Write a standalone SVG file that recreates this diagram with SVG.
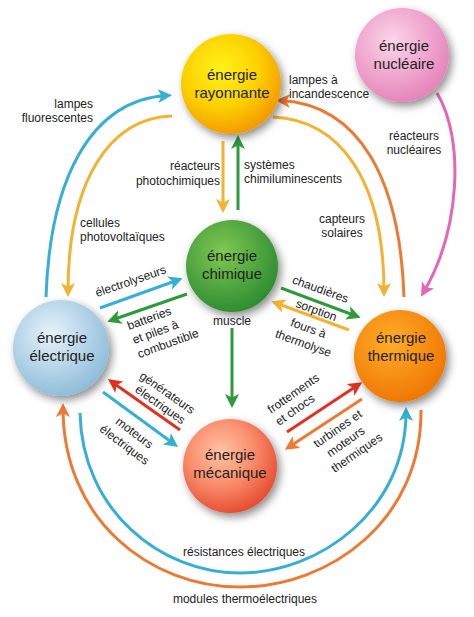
<svg xmlns="http://www.w3.org/2000/svg" width="474" height="617" viewBox="0 0 474 617">
<style>
.lbl{font-family:"Liberation Sans",Arial,sans-serif;font-size:12px;fill:#222}
.nd{font-family:"Liberation Sans",Arial,sans-serif;font-size:15px;fill:#222;text-anchor:middle}
.c{fill:none;stroke-width:3;stroke-linecap:butt}
.blue{stroke:#36afd2}.yel{stroke:#f2b233}.ora{stroke:#ec7a35}.grn{stroke:#2f9a3b}.red{stroke:#e0321e}.pnk{stroke:#e466b4}
</style>
<defs>
<filter id="sh" x="-30%" y="-30%" width="160%" height="160%"><feDropShadow dx="3" dy="4" stdDeviation="4" flood-color="#000" flood-opacity="0.45"/></filter>
<radialGradient id="gR" cx="40%" cy="35%" r="70%"><stop offset="0" stop-color="#fff21a"/><stop offset="0.55" stop-color="#fcd000"/><stop offset="1" stop-color="#f29400"/></radialGradient>
<radialGradient id="gN" cx="40%" cy="35%" r="70%"><stop offset="0" stop-color="#fbd6e8"/><stop offset="1" stop-color="#e57fb8"/></radialGradient>
<radialGradient id="gC" cx="40%" cy="35%" r="70%"><stop offset="0" stop-color="#80c853"/><stop offset="1" stop-color="#2a8a30"/></radialGradient>
<radialGradient id="gE" cx="40%" cy="35%" r="70%"><stop offset="0" stop-color="#e6f2fa"/><stop offset="1" stop-color="#8bbad8"/></radialGradient>
<radialGradient id="gT" cx="40%" cy="35%" r="70%"><stop offset="0" stop-color="#ffae2a"/><stop offset="1" stop-color="#ef7400"/></radialGradient>
<radialGradient id="gM" cx="40%" cy="35%" r="70%"><stop offset="0" stop-color="#ffc4a6"/><stop offset="0.5" stop-color="#f98e6c"/><stop offset="1" stop-color="#e4472c"/></radialGradient>
<marker id="aB" viewBox="0 0 14 14" markerWidth="14" markerHeight="14" refX="9" refY="7" orient="auto" markerUnits="userSpaceOnUse"><path d="M0,0 L14,7 L0,14 L3.5,7 z" fill="#36afd2"/></marker>
<marker id="aY" viewBox="0 0 14 14" markerWidth="14" markerHeight="14" refX="9" refY="7" orient="auto" markerUnits="userSpaceOnUse"><path d="M0,0 L14,7 L0,14 L3.5,7 z" fill="#f2b233"/></marker>
<marker id="aO" viewBox="0 0 14 14" markerWidth="14" markerHeight="14" refX="9" refY="7" orient="auto" markerUnits="userSpaceOnUse"><path d="M0,0 L14,7 L0,14 L3.5,7 z" fill="#ec7a35"/></marker>
<marker id="aG" viewBox="0 0 14 14" markerWidth="14" markerHeight="14" refX="9" refY="7" orient="auto" markerUnits="userSpaceOnUse"><path d="M0,0 L14,7 L0,14 L3.5,7 z" fill="#2f9a3b"/></marker>
<marker id="aR" viewBox="0 0 14 14" markerWidth="14" markerHeight="14" refX="9" refY="7" orient="auto" markerUnits="userSpaceOnUse"><path d="M0,0 L14,7 L0,14 L3.5,7 z" fill="#e0321e"/></marker>
<marker id="aP" viewBox="0 0 14 14" markerWidth="14" markerHeight="14" refX="9" refY="7" orient="auto" markerUnits="userSpaceOnUse"><path d="M0,0 L14,7 L0,14 L3.5,7 z" fill="#e466b4"/></marker>
</defs>
<rect width="474" height="617" fill="#fff"/>

<g id="connectors">
<path class="c blue" d="M46,297 C50,180 90,100 167,95.5" marker-end="url(#aB)"/>
<path class="c yel" d="M172,116 C110,118 68,180 68,292" marker-end="url(#aY)"/>
<path class="c ora" d="M404,297 C400,180 360,105 281,100.5" marker-end="url(#aO)"/>
<path class="c yel" d="M273,117 C340,120 384,180 384,292" marker-end="url(#aY)"/>
<path class="c pnk" d="M437,93 C465,140 460,230 423.5,292.5" marker-end="url(#aP)"/>
<path class="c yel" d="M223,141 L223,208" marker-end="url(#aY)"/>
<path class="c grn" d="M238,210 L238,140" marker-end="url(#aG)"/>
<path class="c blue" d="M100,308 L178,280" marker-end="url(#aB)"/>
<path class="c grn" d="M187,294 L112,320" marker-end="url(#aG)"/>
<path class="c grn" d="M281,288 L356,316" marker-end="url(#aG)"/>
<path class="c yel" d="M349,330 L276,303" marker-end="url(#aY)"/>
<path class="c grn" d="M232,328 L232,403" marker-end="url(#aG)"/>
<path class="c red" d="M180,430 L112,382" marker-end="url(#aR)"/>
<path class="c blue" d="M103,392 L174,444" marker-end="url(#aB)"/>
<path class="c red" d="M287,432 L358,385" marker-end="url(#aR)"/>
<path class="c ora" d="M362,399 L289,447" marker-end="url(#aO)"/>
<path class="c blue" d="M80,413 C82,510 160,573 240,573 C320,573 406,510 406,412" marker-end="url(#aB)"/>
<path class="c ora" d="M421,410 C422,520 330,587 240,587 C150,587 63,520 63,408" marker-end="url(#aO)"/>
</g>

<g id="labels">
<text class="lbl" text-anchor="end" x="93" y="108">lampes</text>
<text class="lbl" text-anchor="end" x="93" y="122">fluorescentes</text>
<text class="lbl" text-anchor="end" x="220" y="170">réacteurs</text>
<text class="lbl" text-anchor="end" x="220" y="185">photochimiques</text>
<text class="lbl" x="244" y="169">systèmes</text>
<text class="lbl" x="244" y="183">chimiluminescents</text>
<text class="lbl" x="289" y="84">lampes à</text>
<text class="lbl" x="289" y="98">incandescence</text>
<text class="lbl" text-anchor="middle" x="414" y="140">réacteurs</text>
<text class="lbl" text-anchor="middle" x="414" y="154">nucléaires</text>
<text class="lbl" x="80" y="227">cellules</text>
<text class="lbl" x="80" y="241">photovoltaïques</text>
<text class="lbl" text-anchor="middle" x="342" y="223">capteurs</text>
<text class="lbl" text-anchor="middle" x="342" y="237">solaires</text>
<text class="lbl" transform="translate(97,297) rotate(-19)">électrolyseurs</text>
<g transform="translate(129,330) rotate(-20)">
<text class="lbl" x="0" y="0">batteries</text>
<text class="lbl" x="0" y="15">et piles à</text>
<text class="lbl" x="0" y="30">combustible</text>
</g>
<text class="lbl" text-anchor="middle" x="232" y="325">muscle</text>
<text class="lbl" text-anchor="middle" transform="translate(319,293) rotate(20)">chaudières</text>
<text class="lbl" text-anchor="middle" transform="translate(315,314) rotate(20)">sorption</text>
<text class="lbl" text-anchor="middle" transform="translate(307,332) rotate(20)">fours à</text>
<text class="lbl" text-anchor="middle" transform="translate(302,347) rotate(20)">thermolyse</text>
<text class="lbl" text-anchor="middle" transform="translate(165,396) rotate(35)">générateurs</text>
<text class="lbl" text-anchor="middle" transform="translate(158,408) rotate(35)">électriques</text>
<text class="lbl" text-anchor="middle" transform="translate(132,436) rotate(37)">moteurs</text>
<text class="lbl" text-anchor="middle" transform="translate(122,448) rotate(37)">électriques</text>
<text class="lbl" transform="translate(271,414) rotate(-35)">frottements</text>
<text class="lbl" transform="translate(279,426) rotate(-35)">et chocs</text>
<text class="lbl" text-anchor="middle" transform="translate(340,432) rotate(-35)">turbines et</text>
<text class="lbl" text-anchor="middle" transform="translate(348,445) rotate(-35)">moteurs</text>
<text class="lbl" text-anchor="middle" transform="translate(359,456) rotate(-35)">thermiques</text>
<text class="lbl" text-anchor="middle" x="244" y="556">résistances électriques</text>
<text class="lbl" text-anchor="middle" x="245" y="603">modules thermoélectriques</text>
</g>

<g id="rayonnante"><circle cx="231" cy="84" r="50" fill="url(#gR)" filter="url(#sh)"/><text class="nd" x="232" y="80">énergie</text><text class="nd" x="232" y="98">rayonnante</text></g>
<g id="nucleaire"><circle cx="402" cy="55" r="47" fill="url(#gN)" filter="url(#sh)"/><text class="nd" x="404" y="51">énergie</text><text class="nd" x="404" y="69">nucléaire</text></g>
<g id="chimique"><circle cx="232" cy="266" r="46" fill="url(#gC)" filter="url(#sh)"/><text class="nd" x="232" y="261">énergie</text><text class="nd" x="232" y="279">chimique</text></g>
<g id="electrique"><circle cx="61" cy="348" r="48" fill="url(#gE)" filter="url(#sh)"/><text class="nd" x="62" y="343">énergie</text><text class="nd" x="62" y="361">électrique</text></g>
<g id="thermique"><circle cx="400" cy="356" r="46" fill="url(#gT)" filter="url(#sh)"/><text class="nd" x="401" y="343">énergie</text><text class="nd" x="401" y="361">thermique</text></g>
<g id="mecanique"><circle cx="230" cy="466" r="47" fill="url(#gM)" filter="url(#sh)"/><text class="nd" x="230" y="460">énergie</text><text class="nd" x="230" y="478">mécanique</text></g>
</svg>
